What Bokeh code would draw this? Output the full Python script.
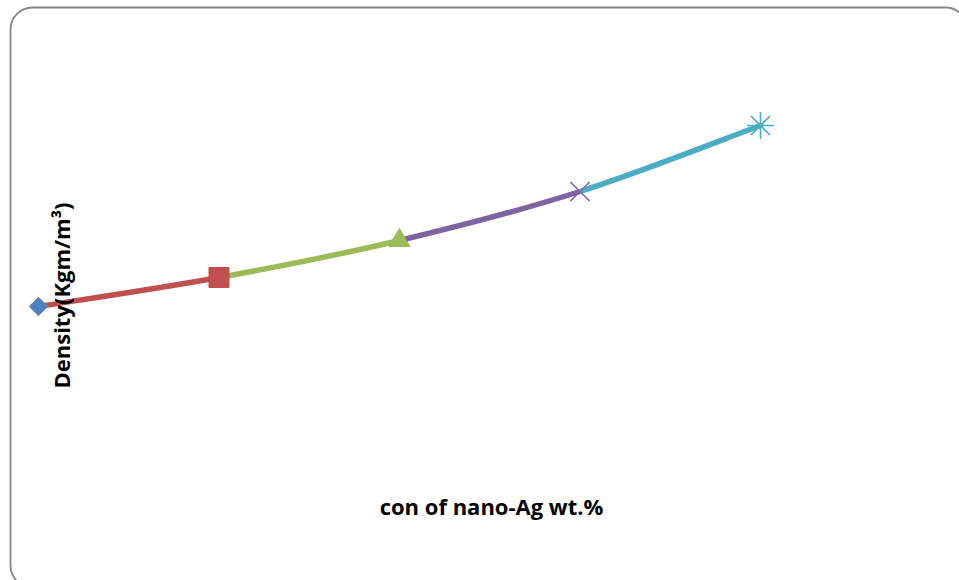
import numpy as np
from bokeh.plotting import figure
from bokeh.models import Range1d, Label, BoxAnnotation, ColumnDataSource
from bokeh.embed import file_html
from bokeh.resources import INLINE

# ---- data ----
conc = [0, 1, 2, 3, 4]                      # con of nano-Ag wt.% (category positions)
density = [1150, 1164.5, 1183, 1207.5, 1240.5]  # Density (Kgm/m3)
markers = ["square", "square", "triangle", "x", "asterisk"]
colors = ["#4F81BD", "#C0504D", "#9BBB59", "#8064A2", "#4BACC6"]
x_title = "con of nano-Ag wt.%"
y_title = "Density(Kgm/m\u00b3)"

W, H = 959, 580
p = figure(width=W, height=H, output_backend="svg", toolbar_location=None,
           x_axis_location=None, y_axis_location=None, min_border=0,
           title=None,
           x_range=Range1d(-0.2105, 5.1025), y_range=Range1d(1013, 1303))
p.grid.visible = False
p.outline_line_color = None
p.background_fill_color = "white"
p.border_fill_color = "white"

# rounded chart border
p.add_layout(BoxAnnotation(left=10, right=967, top=7, bottom=587,
                           left_units="canvas", right_units="canvas",
                           top_units="canvas", bottom_units="canvas",
                           fill_alpha=0, line_color="#868686", line_alpha=1.0,
                           line_width=1.8, border_radius=22, level="underlay"))

# smoothed segments (Excel-like cubic Bezier, tension 1/6)
xs = np.array(conc, dtype=float)
ys = np.array(density, dtype=float)
n = len(xs)
x0, y0, x1, y1, cx0, cy0, cx1, cy1, segc = [], [], [], [], [], [], [], [], []
for i in range(n - 1):
    pm = max(i - 1, 0)
    pp = min(i + 2, n - 1)
    x0.append(xs[i]); y0.append(ys[i]); x1.append(xs[i + 1]); y1.append(ys[i + 1])
    cx0.append(xs[i] + (xs[i + 1] - xs[pm]) / 6.0)
    cy0.append(ys[i] + (ys[i + 1] - ys[pm]) / 6.0)
    cx1.append(xs[i + 1] - (xs[pp] - xs[i]) / 6.0)
    cy1.append(ys[i + 1] - (ys[pp] - ys[i]) / 6.0)
    segc.append(colors[i + 1])
seg = ColumnDataSource(dict(x0=x0, y0=y0, x1=x1, y1=y1, cx0=cx0, cy0=cy0,
                            cx1=cx1, cy1=cy1, c=segc))
p.bezier(x0="x0", y0="y0", x1="x1", y1="y1", cx0="cx0", cy0="cy0",
         cx1="cx1", cy1="cy1", line_color="c", line_width=5.5, source=seg)

# markers
sizes = [13, 20, 21, 27, 27]
angles = [np.pi / 4, 0, 0, 0, 0]
for i in range(n):
    if markers[i] in ("x", "asterisk"):
        p.scatter([conc[i]], [density[i]], marker=markers[i], size=sizes[i],
                  line_color=colors[i], line_width=1.6, fill_alpha=0)
    else:
        p.scatter([conc[i]], [density[i]], marker=markers[i], size=sizes[i],
                  angle=angles[i], fill_color=colors[i], line_color=colors[i])

# axis titles
p.add_layout(Label(x=491, y=H - 505, x_units="screen", y_units="screen",
                   text=x_title, text_font="Open Sans", text_font_style="bold",
                   text_font_size="22px", text_align="center",
                   text_baseline="middle", text_color="black"))
p.add_layout(Label(x=60, y=H - 295, x_units="screen", y_units="screen",
                   text=y_title, angle=np.pi / 2, text_font="Open Sans",
                   text_font_style="bold", text_font_size="22px",
                   text_align="center", text_baseline="middle",
                   text_color="black"))

open("out.html", "w").write(file_html(p, INLINE))
